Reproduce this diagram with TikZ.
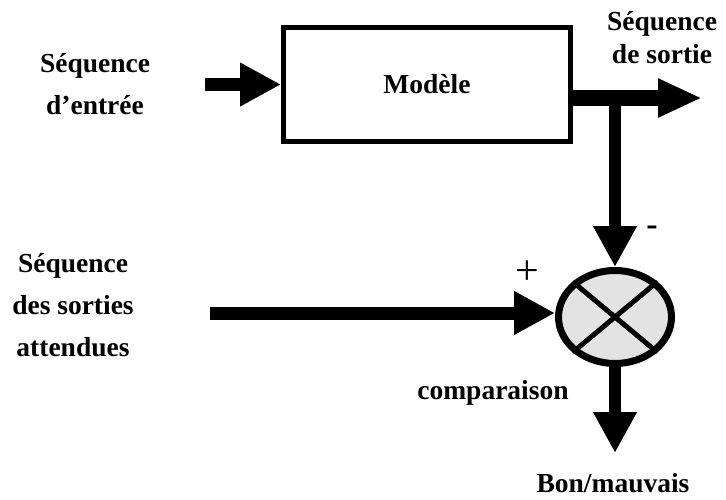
\documentclass[tikz,border=0pt]{standalone}
\usepackage{fontspec}
\setmainfont{Liberation Serif}
\usetikzlibrary{arrows.meta,shapes.geometric}
\begin{document}
\begin{tikzpicture}[x=1pt,y=-1pt,
  lbl/.style={font=\bfseries\fontsize{27.5}{42}\selectfont, align=center, inner sep=0pt},
  sign/.style={font=\fontsize{42}{42}\selectfont, inner sep=0pt},
  flow/.style={line width=13pt, -{Triangle[length=41pt,width=41pt]}}]
 \useasboundingbox (0,0) rectangle (726,500);
 % blocks
 \node[draw, line width=5pt, minimum width=287pt, minimum height=114pt, inner sep=0pt, lbl] (model) at (427,84.5) {Modèle};
 \node[ellipse, draw, line width=7pt, fill=gray!22, minimum width=113pt, minimum height=93pt, inner sep=0pt] (cmp) at (615,317) {};
 \draw[line width=5pt] (cmp.north west) -- (cmp.south east) (cmp.north east) -- (cmp.south west);
 % free ends
 \coordinate (in) at (205,84.5);
 \coordinate (out) at (702,98);
 \coordinate (split) at (615,98);
 \coordinate (exp) at (210,313);
 \coordinate (res) at (615,453);
 % connectors
 \draw[flow] (in) -- (model.west);
 \draw[flow, line width=16pt, -{Triangle[length=44pt,width=36pt]}] (model.east |- out) -- (out);
 \draw[flow, line width=12pt] (split) -- (cmp.north);
 \draw[flow] (exp) -- (exp -| cmp.west);
 \draw[flow, line width=12pt] (cmp.south) -- (res);
 % labels
 \node[lbl] (inlbl) at (95,84) {Séquence\\d’entrée};
 \node[lbl, font=\bfseries\fontsize{27.5}{33}\selectfont] (outlbl) at (662,38) {Séquence\\de sortie};
 \node[lbl] (explbl) at (73,305) {Séquence\\des sorties\\attendues};
 \node[lbl] (cmplbl) at (493,393) {comparaison};
 \node[lbl] (reslbl) at (613,483) {Bon/mauvais};
 \node[sign] (plus) at (527,273) {+};
 \node[sign, font=\bfseries\fontsize{34}{34}\selectfont] (minus) at (652,231) {-};
\end{tikzpicture}
\end{document}
